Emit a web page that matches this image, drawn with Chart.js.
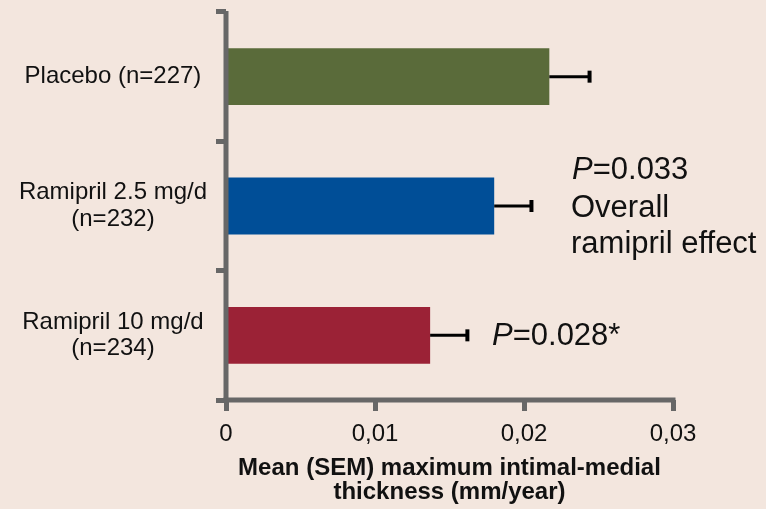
<!DOCTYPE html>
<html>
<head>
<meta charset="utf-8">
<script src="https://cdn.jsdelivr.net/npm/chart.js@4.4.1/dist/chart.umd.min.js"></script>
<style>
  body { margin: 0; background: #F3E6DE; }
  #wrap { width: 766px; height: 509px; position: relative; }
</style>
</head>
<body>
<div id="wrap"><canvas id="chart"></canvas></div>
<script>
// Groups shown on the y axis (multi-line labels as arrays)
const categories = [
  'Placebo (n=227)',
  ['Ramipril 2.5 mg/d', '(n=232)'],
  ['Ramipril 10 mg/d', '(n=234)'],
];

// Mean and SEM of maximum IMT progression (mm/year)
const meanValues = [0.0217, 0.0180, 0.0137];
const semValues = [0.0027, 0.0025, 0.0025];

const barColors = ['#5A6B3A', '#004E97', '#9B2236'];

// x axis tick labels (decimal comma as in the original)
const xTickLabels = ['0', '0,01', '0,02', '0,03'];

const FONT = '"Liberation Sans", Arial, sans-serif';
const AXIS_GRAY = '#676767';

// Draws error bars, the axis lines on top of the bars and the p-value notes
const overlayPlugin = {
  id: 'overlay',
  afterDatasetsDraw(chart) {
    const { ctx, chartArea: a, scales: { x, y } } = chart;
    ctx.save();

    // error bars
    ctx.strokeStyle = '#000';
    meanValues.forEach((m, i) => {
      const yc = y.getPixelForValue(i);
      const x0 = x.getPixelForValue(m);
      const x1 = x.getPixelForValue(m + semValues[i]);
      ctx.lineWidth = 3;
      ctx.beginPath();
      ctx.moveTo(x0, yc);
      ctx.lineTo(x1, yc);
      ctx.stroke();
      ctx.lineWidth = 4;
      ctx.beginPath();
      ctx.moveTo(x1, yc - 6);
      ctx.lineTo(x1, yc + 6);
      ctx.stroke();
    });

    // axis lines
    ctx.fillStyle = AXIS_GRAY;
    ctx.fillRect(a.left - 2.5, a.top - 1, 5, a.bottom - a.top + 3.5);
    ctx.fillRect(a.left - 2.5, a.bottom - 2.5, a.right - a.left + 5, 5);

    // p-value annotations
    ctx.fillStyle = '#111';
    ctx.textBaseline = 'alphabetic';
    ctx.textAlign = 'left';
    const drawP = (px, py, rest) => {
      ctx.font = 'italic 31px ' + FONT;
      ctx.fillText('P', px, py);
      const w = ctx.measureText('P').width;
      ctx.font = '31px ' + FONT;
      ctx.fillText(rest, px + w, py);
    };
    drawP(572, 179, '=0.033');
    ctx.font = '31px ' + FONT;
    ctx.fillText('Overall', 571, 217);
    ctx.fillText('ramipril effect', 571, 253);
    drawP(492, 345, '=0.028*');

    ctx.restore();
  },
};

new Chart(document.getElementById('chart'), {
  type: 'bar',
  data: {
    labels: categories,
    datasets: [
      {
        data: meanValues,
        backgroundColor: barColors,
        borderWidth: 0,
        barPercentage: 0.44,
        categoryPercentage: 1,
      },
    ],
  },
  options: {
    indexAxis: 'y',
    responsive: true,
    maintainAspectRatio: false,
    animation: false,
    layout: { padding: { top: 12, right: 93, bottom: 0, left: 0 } },
    plugins: {
      legend: { display: false },
      tooltip: { enabled: false },
    },
    scales: {
      x: {
        min: 0,
        max: 0.03,
        afterFit: (scale) => {
          scale.height = 109;
          scale.paddingLeft = 0;
          scale.paddingRight = 0;
        },
        border: { display: false },
        grid: {
          drawOnChartArea: false,
          drawTicks: true,
          tickLength: 11,
          tickWidth: 5,
          tickColor: AXIS_GRAY,
          color: AXIS_GRAY,
        },
        ticks: {
          stepSize: 0.01,
          padding: 9,
          color: '#111',
          font: { family: FONT, size: 24 },
          callback: (value, index) => xTickLabels[index],
        },
        title: {
          display: true,
          text: ['Mean (SEM) maximum intimal-medial', 'thickness (mm/year)'],
          color: '#111',
          font: { family: FONT, size: 24, weight: 'bold', lineHeight: 1.0 },
          padding: { top: 0, bottom: 5 },
        },
      },
      y: {
        afterFit: (scale) => {
          scale.width = 226;
          scale.paddingTop = 0;
          scale.paddingBottom = 0;
        },
        border: { display: false },
        grid: {
          drawOnChartArea: false,
          drawTicks: true,
          tickLength: 10,
          tickWidth: 5,
          tickColor: AXIS_GRAY,
          color: AXIS_GRAY,
        },
        ticks: {
          crossAlign: 'center',
          padding: 9,
          color: '#111',
          font: { family: FONT, size: 24, lineHeight: 1.1 },
        },
      },
    },
  },
  plugins: [overlayPlugin],
});
</script>
</body>
</html>
